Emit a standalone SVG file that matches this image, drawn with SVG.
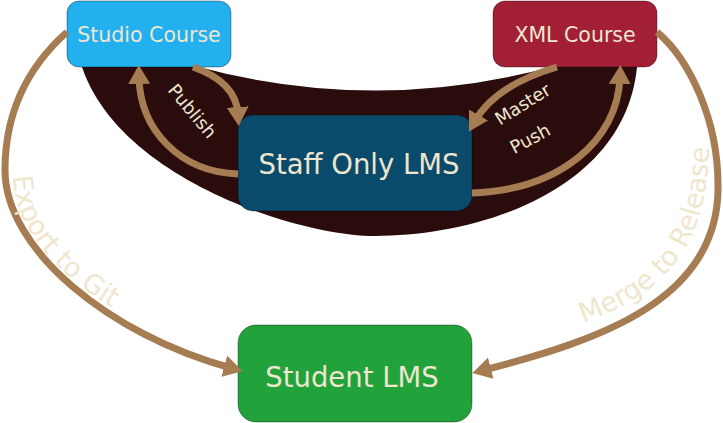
<svg xmlns="http://www.w3.org/2000/svg" width="723" height="423" viewBox="0 0 723 423">
<style>
.box{stroke:#000;stroke-opacity:0.35;stroke-width:1}
.lbl{font-family:"DejaVu Sans",sans-serif;fill:#eee6cf;text-anchor:middle}
.small{font-size:20.5px}
.big{font-size:27.5px}
.arr{font-family:"DejaVu Sans",sans-serif;fill:#eee6cf;font-size:18px;text-anchor:middle}
.out{font-family:"DejaVu Sans",sans-serif;fill:#efe6cd;font-size:27px}
.con{fill:none;stroke:#a67c52;stroke-width:7;marker-end:url(#ah)}
</style>
<defs>
<marker id="ah" viewBox="0 0 19 22" refX="7" refY="11" markerWidth="19" markerHeight="22" markerUnits="userSpaceOnUse" orient="auto">
<path d="M0,0 L19,11 L0,22 Z" fill="#a67c52"/>
</marker>
<path id="tp-export" d="M 13,176 C 15,240 75,292 150,328"/>
<path id="tp-merge" d="M 583,323 C 655,296 712,258 709,130"/>
</defs>
<rect width="723" height="423" fill="#ffffff"/>
<path id="zone" d="M 82,60 L 195,60 L 195,66 Q 375,115 555,66 L 555,60 L 640,60 L 637,67 C 625,190 480,236 375,236 C 300,236 120,180 82,67 Z" fill="#2b0c0c"/>
<g id="node-studio">
<rect class="box" x="67" y="1" width="164" height="66" rx="12" fill="#23b0ef"/>
<text class="lbl small" x="149" y="42">Studio Course</text>
</g>
<g id="node-xml">
<rect class="box" x="493" y="1" width="164" height="66" rx="12" fill="#a31f35"/>
<text class="lbl small" x="575" y="42">XML Course</text>
</g>
<g id="node-staff">
<rect class="box" x="238" y="115" width="234" height="96" rx="15" fill="#0a4a6b"/>
<text class="lbl big" x="359" y="174">Staff Only LMS</text>
</g>
<g id="node-student">
<rect class="box" x="238" y="325" width="234" height="97" rx="18" fill="#21a23a"/>
<text class="lbl big" x="352" y="387">Student LMS</text>
</g>
<g id="connectors">
<path class="con" d="M 193,67 Q 236,82 238,114"/>
<path class="con" d="M 238,174 C 180,172 140,130 139,77"/>
<path class="con" d="M 557,67 C 520,78 490,95 475,121"/>
<path class="con" d="M 472,193 C 560,190 618,140 620,77"/>
<path class="con" d="M 67,32 C 30,65 5,110 5,170 C 5,250 110,335 231,368"/>
<path class="con" d="M 657,32 C 690,60 718,120 718,185 C 720,300 600,340 484,370"/>
<text class="arr" transform="translate(192.5,111) rotate(50)" y="6.5">Publish</text>
<text class="arr" transform="translate(522.5,104) rotate(-32)" y="6.5">Master</text>
<text class="arr" transform="translate(530,138.5) rotate(-28)" y="6.5">Push</text>
<text class="out"><textPath href="#tp-export">Export to Git</textPath></text>
<text class="out"><textPath href="#tp-merge">Merge to Release</textPath></text>
</g>
</svg>
